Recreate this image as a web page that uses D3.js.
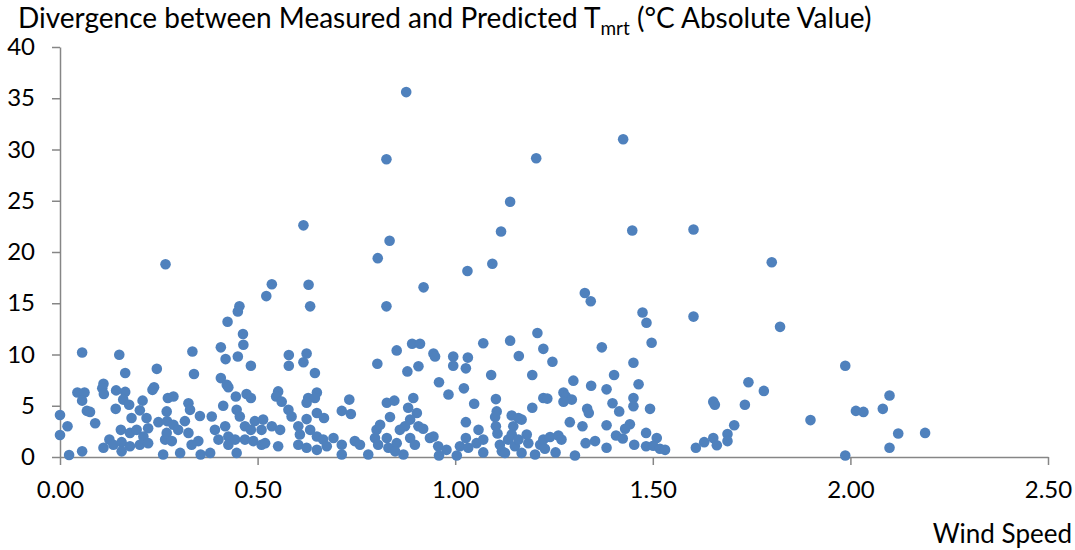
<!DOCTYPE html>
<html>
<head>
<meta charset="utf-8">
<script src="https://cdn.jsdelivr.net/npm/d3@7"></script>
<style>
  body { margin: 0; background: #fff; }
  text { font-family: Lato, 'Open Sans', sans-serif; fill: #000; }
</style>
</head>
<body>
<svg id="chart"></svg>
<script>
// tick values
const xTicks = [0, 0.5, 1.0, 1.5, 2.0, 2.5];
const yTicks = [0, 5, 10, 15, 20, 25, 30, 35, 40];

// [wind speed, divergence]
const highPoints = [
    [0.267,18.8],[0.424,13.2],[0.454,14.7],[0.450,14.2],[0.463,12.0],[0.522,15.7],[0.536,16.85],[0.616,22.6],
    [0.629,16.8],[0.633,14.7],[0.804,19.4],[0.834,21.1],[0.826,29.05],[0.876,35.6],[0.826,14.7],[0.920,16.55],
    [1.031,18.15],[1.094,18.85],[1.116,22.0],[1.139,24.9],[1.205,29.15],[1.208,12.1],[1.425,31.0],[1.448,22.1],
    [1.603,22.2],[1.801,19.0],[1.328,16.0],[1.343,15.2],[1.474,14.1],[1.484,13.1],[1.603,13.7],[1.822,12.7]
];
const lowPoints = [
    [0.056,10.2],[0.150,9.97],[0.165,8.2],[0.245,8.6],[0.044,6.3],[0.062,6.3],[0.056,5.5],[0.068,4.5],[0.076,4.4],[0.000,4.1],
    [0.019,3.0],[0.000,2.15],[0.023,0.2],[0.056,0.55],[0.089,3.3],[0.110,7.15],[0.107,6.7],[0.111,6.15],[0.142,6.5],[0.165,6.35],
    [0.160,5.6],[0.175,5.1],[0.141,4.7],[0.234,6.55],[0.238,6.8],[0.209,5.5],[0.273,5.75],[0.202,4.55],[0.181,3.8],[0.219,3.8],
    [0.249,3.4],[0.154,2.65],[0.177,2.35],[0.194,2.65],[0.211,2.0],[0.223,2.8],[0.270,4.45],[0.125,1.7],[0.110,0.9],[0.135,1.2],
    [0.156,1.45],[0.156,0.55],[0.177,1.05],[0.202,1.2],[0.223,1.35],[0.261,0.25],[0.266,1.7],[0.271,3.5],
    [0.464,10.95],[0.407,10.7],[0.335,10.3],[0.419,9.55],[0.450,9.8],[0.483,8.9],[0.579,9.95],[0.579,8.9],[0.339,8.1],[0.407,7.7],
    [0.422,7.05],[0.426,6.8],[0.472,6.15],[0.483,5.75],[0.445,5.9],[0.552,6.4],[0.547,5.9],[0.561,5.4],[0.578,4.6],[0.586,3.95],
    [0.287,5.9],[0.325,5.25],[0.329,4.6],[0.354,4.0],[0.384,3.95],[0.413,5.0],[0.447,4.6],[0.455,3.95],[0.468,3.0],[0.493,3.5],
    [0.514,3.65],[0.483,2.65],[0.510,2.65],[0.536,3.0],[0.557,2.65],[0.287,3.15],[0.316,3.5],[0.299,2.65],[0.270,2.35],[0.283,1.55],
    [0.325,2.35],[0.350,1.55],[0.333,1.2],[0.304,0.4],[0.356,0.25],[0.380,0.4],[0.401,1.7],[0.392,2.65],[0.418,3.0],[0.426,2.0],
    [0.426,1.2],[0.443,1.7],[0.447,0.4],[0.468,1.7],[0.489,1.55],[0.510,1.2],[0.519,1.35],[0.552,1.05],
    [0.624,10.1],[0.616,9.25],[0.645,8.2],[0.852,10.4],[0.891,11.05],[0.803,9.1],[0.879,8.35],[0.907,8.85],[0.650,6.3],[0.628,5.75],
    [0.645,5.75],[0.624,5.3],[0.650,4.3],[0.668,3.8],[0.624,3.7],[0.732,5.6],[0.713,4.5],[0.736,4.2],[0.827,5.3],[0.846,5.5],
    [0.835,3.9],[0.894,5.75],[0.881,4.8],[0.903,4.3],[0.603,3.0],[0.607,2.2],[0.603,1.2],[0.624,0.9],[0.633,2.65],[0.650,2.0],
    [0.666,1.7],[0.650,0.7],[0.675,1.05],[0.692,1.85],[0.713,1.2],[0.713,0.25],[0.746,1.55],[0.759,1.2],[0.780,0.25],[0.801,2.65],
    [0.810,3.15],[0.797,1.85],[0.805,1.2],[0.827,1.85],[0.831,0.9],[0.852,1.35],[0.860,2.65],[0.873,3.0],[0.869,0.25],[0.886,1.85],
    [0.898,1.2],[0.907,3.0],[0.848,0.55],[0.886,3.65],
    [0.911,11.05],[0.945,10.1],[0.949,9.8],[0.995,9.8],[0.995,8.9],[1.032,9.7],[1.027,8.65],[1.071,11.1],[1.139,11.35],[1.161,9.85],
    [1.223,10.55],[1.091,8.0],[1.195,8.0],[0.959,7.3],[0.983,6.1],[1.022,6.7],[0.919,2.75],[1.048,5.2],[1.103,5.65],[1.195,4.8],
    [1.223,5.75],[1.027,3.4],[1.059,2.65],[1.105,4.45],[1.101,3.9],[1.103,3.0],[1.107,2.3],[1.143,4.05],[1.160,3.8],[1.168,3.65],
    [1.147,3.0],[0.936,1.85],[0.945,2.0],[0.957,1.05],[0.978,0.7],[0.959,0.15],[1.004,0.15],[1.012,1.05],[1.027,1.85],[1.033,0.9],
    [1.054,1.35],[1.071,1.7],[1.071,0.45],[1.113,1.2],[1.118,0.55],[1.134,1.7],[1.143,2.2],[1.151,1.05],[1.160,1.7],[1.168,0.4],
    [1.185,1.35],[1.181,2.2],[1.202,0.25],[1.215,1.2],[1.223,1.7],[1.126,0.4],
    [1.246,9.3],[1.371,10.7],[1.497,11.15],[1.451,9.2],[1.402,8.0],[1.299,7.45],[1.344,6.95],[1.383,6.6],[1.464,7.1],[1.233,5.7],
    [1.274,6.3],[1.280,5.9],[1.295,5.6],[1.274,5.4],[1.451,5.75],[1.451,4.95],[1.398,5.25],[1.334,4.7],[1.338,4.3],[1.415,4.45],
    [1.493,4.7],[1.290,3.4],[1.322,3.0],[1.383,3.1],[1.442,3.2],[1.430,2.75],[1.483,2.35],[1.240,1.95],[1.261,2.1],[1.269,1.7],
    [1.227,0.8],[1.254,0.45],[1.303,0.15],[1.330,1.35],[1.354,1.55],[1.383,0.9],[1.407,2.1],[1.424,1.8],[1.453,1.2],[1.483,1.05],
    [1.510,1.85],[1.501,1.1],[1.518,0.8],
    [1.742,7.3],[1.781,6.45],[1.653,5.4],[1.657,5.1],[1.733,5.1],[1.706,3.1],[1.689,2.25],[1.689,1.55],[1.653,1.85],[1.662,1.15],
    [1.630,1.45],[1.609,0.9],[1.531,0.7],
    [1.987,8.9],[2.099,6.0],[2.014,4.5],[2.033,4.4],[2.082,4.7],[1.899,3.6],[2.121,2.3],[2.099,0.9],[1.987,0.15],[2.189,2.35]
];

class ScatterPlot {

    constructor(config, data) {
        this.config = {
            parent: config.parent,
            width: config.width || 1075,
            height: config.height || 550,
            margin: config.margin || { top: 47, right: 27, bottom: 93, left: 60 }
        };
        this.data = data;
        this.init();
    }

    init() {
        let self = this;
        let margin = self.config.margin;

        self.svg = d3.select(self.config.parent)
            .attr('width', self.config.width)
            .attr('height', self.config.height);

        self.inner_width = self.config.width - margin.left - margin.right;
        self.inner_height = self.config.height - margin.top - margin.bottom;

        self.chart = self.svg.append('g')
            .attr('transform', `translate(${margin.left}, ${margin.top})`);

        self.xscale = d3.scaleLinear().domain([0, 2.5]).range([0, self.inner_width]);
        self.yscale = d3.scaleLinear().domain([0, 40]).range([self.inner_height, 0]);

        self.xaxis = d3.axisBottom(self.xscale)
            .tickValues(xTicks)
            .tickFormat(d3.format('.2f'))
            .tickSize(8)
            .tickPadding(16)
            .tickSizeOuter(0);

        self.yaxis = d3.axisLeft(self.yscale)
            .tickValues(yTicks)
            .tickSize(8)
            .tickPadding(17)
            .tickSizeOuter(0);

        self.xaxis_group = self.chart.append('g')
            .attr('transform', `translate(0, ${self.inner_height})`);
        self.yaxis_group = self.chart.append('g');

        // title with subscript
        const title = self.svg.append('text')
            .attr('x', 18)
            .attr('y', 28)
            .style('font-size', '28px');
        title.append('tspan').text('Divergence between Measured and Predicted T');
        title.append('tspan').attr('dy', 7).style('font-size', '19px').text('mrt');
        title.append('tspan').attr('dy', -7).text(' (°C Absolute Value)');

        self.svg.append('text')
            .attr('x', 1072)
            .attr('y', 543)
            .attr('text-anchor', 'end')
            .style('font-size', '26px')
            .text('Wind Speed');
    }

    render() {
        let self = this;

        self.xaxis_group.call(self.xaxis);
        self.yaxis_group.call(self.yaxis);

        self.svg.selectAll('.domain, .tick line')
            .attr('stroke', '#868686')
            .attr('stroke-width', 1.5);
        self.svg.selectAll('.tick text')
            .style('font-size', '24px')
            .style('font-family', 'Lato, sans-serif');

        self.chart.selectAll('.dot')
            .data(self.data)
            .join('circle')
            .attr('class', 'dot')
            .attr('cx', d => self.xscale(d[0]))
            .attr('cy', d => self.yscale(d[1]))
            .attr('r', 5.3)
            .attr('fill', '#4F81BD');
    }
}

const plot = new ScatterPlot({ parent: '#chart' }, highPoints.concat(lowPoints));
plot.render();
</script>
</body>
</html>
